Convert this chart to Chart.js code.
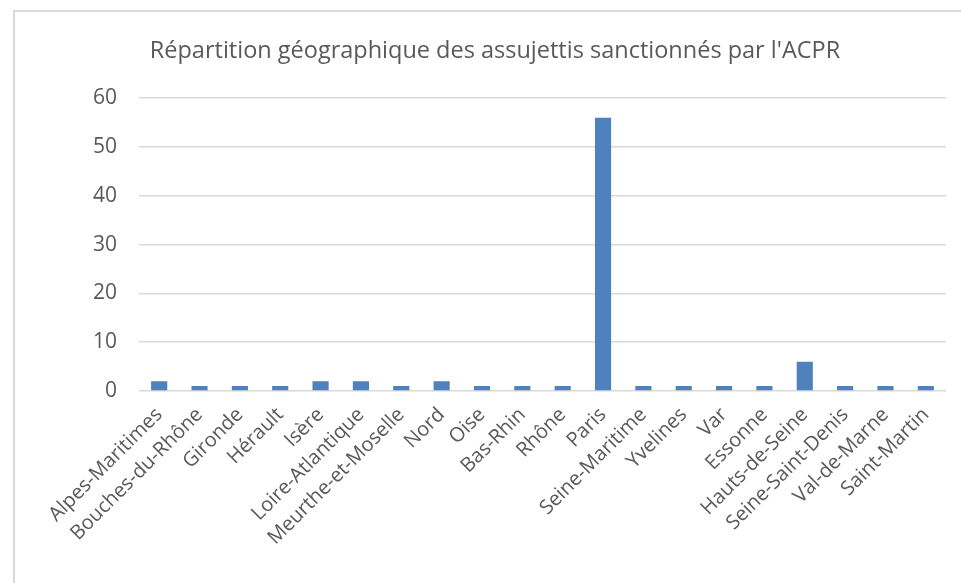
<!DOCTYPE html>
<html><head><meta charset="utf-8">
<script src="https://cdn.jsdelivr.net/npm/chart.js@4.4.1/dist/chart.umd.min.js"></script>
<style>
html,body{margin:0;padding:0;background:#fff;overflow:hidden;}
#frame{position:absolute;left:13px;top:10px;width:1000px;height:620px;border:2px solid #d9d9d9;box-sizing:border-box;}
#wrap{position:absolute;left:0;top:0;width:961px;height:583px;}
</style></head><body>
<div id="frame"></div>
<div id="wrap"><canvas id="c" width="961" height="583"></canvas></div>
<script>
const title = "Répartition géographique des assujettis sanctionnés par l'ACPR";
const categories = ["Alpes-Maritimes","Bouches-du-Rhône","Gironde","Hérault","Isère","Loire-Atlantique","Meurthe-et-Moselle","Nord","Oise","Bas-Rhin","Rhône","Paris","Seine-Maritime","Yvelines","Var","Essonne","Hauts-de-Seine","Seine-Saint-Denis","Val-de-Marne","Saint-Martin"];
const values = [2,1,1,1,2,2,1,2,1,1,1,56,1,1,1,1,6,1,1,1];
const yTicks = [0,10,20,30,40,50,60];

const textColor = '#595959';
const fontFamily = "'Open Sans', 'Liberation Sans', sans-serif";

new Chart(document.getElementById('c'), {
  type: 'bar',
  data: {
    labels: categories,
    datasets: [{
      data: values,
      backgroundColor: '#4f81bd',
      borderWidth: 0,
      barPercentage: 0.4,
      categoryPercentage: 1.0
    }]
  },
  options: {
    responsive: false,
    animation: false,
    layout: { padding: { left: 44, right: 15, top: 0, bottom: 0 } },
    plugins: {
      legend: { display: false },
      tooltip: { enabled: false },
      title: {
        display: true,
        text: title,
        color: textColor,
        font: { family: fontFamily, size: 23.5, weight: 'normal', lineHeight: 1.2 },
        padding: { top: 37, bottom: 33 }
      }
    },
    scales: {
      x: {
        grid: { display: false, drawTicks: false },
        border: { display: false },
        ticks: {
          color: textColor,
          font: { family: fontFamily, size: 20 },
          minRotation: 45, maxRotation: 45,
          padding: 12,
          autoSkip: false
        },
        afterFit: (s) => { s.height = 192; }
      },
      y: {
        min: 0, max: 60,
        afterBuildTicks: (s) => { s.ticks = yTicks.map(v => ({ value: v })); },
        grid: { color: '#d9d9d9', lineWidth: 1.5, drawTicks: false },
        border: { display: false },
        ticks: {
          color: textColor,
          font: { family: fontFamily, size: 21 },
          padding: 22
        },
        afterFit: (s) => { s.width = 95; }
      }
    }
  }
});
</script>
</body></html>
